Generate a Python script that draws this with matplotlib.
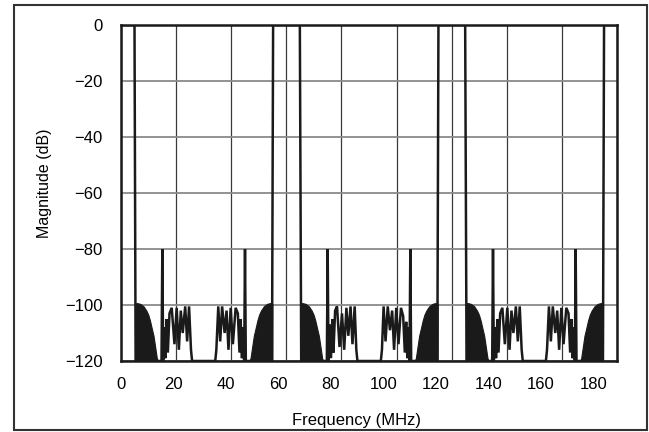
import matplotlib
matplotlib.use("Agg")
import matplotlib.pyplot as plt
from matplotlib.patches import Rectangle
from matplotlib.transforms import blended_transform_factory

plt.rcParams["font.family"] = ["Liberation Sans", "DejaVu Sans"]

# ---- data (MHz, dB) ----

# main response trace, one continuous line from 0 to 180 MHz
trace_mhz = [
    0, 4.9, 5.3,                                   # passband @ 0
    14.7, 15.0, 15.3,                              # spur @ 15
    15.7, 16.1, 16.6, 17.0,
    17.6, 18.4, 19.4, 20.2, 21.0, 21.7, 22.4, 23.3, 24.0, 24.7, 25.4, 25.8,
    34.2, 34.6, 35.3, 36.0, 36.7, 37.6, 38.3, 39.0, 39.8, 40.6, 41.6, 42.4,
    43.0, 43.4, 43.9, 44.3,
    44.7, 45.0, 45.3,                              # spur @ 45
    54.8, 55.2, 64.9, 65.4,                        # passband @ 60
    74.7, 75.0, 75.3,                              # spur @ 75
    75.7, 76.2, 76.7, 77.1,
    77.7, 78.4, 79.3, 80.2, 81.0, 81.8, 82.5, 83.3, 84.0, 84.8, 85.4, 85.8,
    94.3, 94.7, 95.3, 96.0, 96.8, 97.6, 98.4, 99.1, 99.9, 100.7, 101.6, 102.4,
    103.0, 103.5, 103.9, 104.3,
    104.7, 105.0, 105.3,                           # spur @ 105
    114.8, 115.2, 124.9, 125.4,                    # passband @ 120
    134.7, 135.0, 135.3,                           # spur @ 135
    135.7, 136.1, 136.6, 137.0,
    137.6, 138.4, 139.3, 140.2, 141.0, 141.7, 142.4, 143.3, 144.0, 144.7, 145.4, 145.8,
    154.2, 154.6, 155.3, 156.0, 156.7, 157.6, 158.3, 159.0, 159.8, 160.6, 161.6, 162.4,
    163.0, 163.4, 163.9, 164.3,
    164.7, 165.0, 165.3,                           # spur @ 165
    174.9, 175.3, 180,                             # passband @ 180
]
trace_db = [
    0, 0, -120,
    -120, -80, -120,
    -108, -119, -105, -117,
    -103, -101, -114, -101, -116, -102, -110, -100.5, -113, -100.5, -116, -120,
    -120, -116, -100.5, -113, -100.5, -110, -102, -116, -101, -114, -101, -103,
    -117, -105, -119, -108,
    -120, -80, -120,
    -120, 0, 0, -120,
    -120, -80, -120,
    -107, -119, -105, -117,
    -102, -100.5, -115, -103, -116, -101, -111, -100.5, -114, -100.5, -116, -120,
    -120, -116, -100.5, -113, -100.5, -109, -102, -116, -101, -114, -101, -104,
    -117, -106, -119, -108,
    -120, -80, -120,
    -120, 0, 0, -120,
    -120, -80, -120,
    -108, -119, -105, -117,
    -103, -101, -114, -101, -116, -102, -110, -100.5, -113, -100.5, -116, -120,
    -120, -116, -100.5, -113, -100.5, -110, -102, -116, -101, -114, -101, -103,
    -117, -105, -119, -108,
    -120, -80, -120,
    -120, 0, 0,
]

# dense stopband ripple next to each passband, drawn solid: upper envelope
block_mhz = [
    [5.2, 5.8, 7.0, 8.2, 9.2, 9.9, 10.5, 11.2, 11.8, 12.4, 13.0, 13.4],
    [46.6, 47.0, 47.6, 48.2, 48.8, 49.5, 50.1, 50.8, 51.8, 53.0, 54.2, 54.9],
    [65.2, 65.8, 67.0, 68.2, 69.2, 69.9, 70.5, 71.2, 71.8, 72.4, 73.0, 73.4],
    [106.6, 107.0, 107.6, 108.2, 108.8, 109.5, 110.1, 110.8, 111.8, 113.0, 114.2, 114.9],
    [125.2, 125.8, 127.0, 128.2, 129.2, 129.9, 130.5, 131.2, 131.8, 132.4, 133.0, 133.4],
    [166.6, 167.0, 167.6, 168.2, 168.8, 169.5, 170.1, 170.8, 171.8, 173.0, 174.2, 174.9],
]
block_db_right = [-99.5, -99.3, -99.6, -100.5, -102, -103.5, -105.5, -108.5, -111, -115, -119, -120]
block_db_left = [-120, -119, -115, -111, -108.5, -105.5, -103.5, -102, -100.5, -99.6, -99.3, -99.5]
block_db = [block_db_right, block_db_left] * 3

x_ticks = [0, 20, 40, 60, 80, 100, 120, 140, 160, 180]
y_ticks = [-120, -100, -80, -60, -40, -20, 0]

# the printed x labels sit a little left of the grid in the original
x_label_scale = 0.952

W, H = 649, 432
fig = plt.figure(figsize=(W / 100, H / 100), dpi=100)
ax = fig.add_axes([121 / W, 1 - 361 / H, 496 / W, 336 / H])

# outer frame round the whole figure
fig.patches.append(Rectangle((14 / W, 2 / H), 633 / W, 425 / H,
                             transform=fig.transFigure, fill=False,
                             edgecolor="#333333", linewidth=1.5))

for f, db in zip(block_mhz, block_db):
    ax.fill_between(f, -120, db, color="#1a1a1a", linewidth=0.8,
                    edgecolor="#1a1a1a", zorder=3)
ax.plot(trace_mhz, trace_db, color="#1a1a1a", linewidth=1.8, zorder=4,
        solid_joinstyle="miter")

ax.set_xlim(0, 180)
ax.set_ylim(-120, 0)
ax.set_xticks(x_ticks)
ax.set_xticklabels([])
ax.set_yticks(y_ticks)
ax.tick_params(length=0)
ax.tick_params(axis="y", pad=13, labelsize=12)
ax.xaxis.grid(True, color="#3a3a3a", linewidth=0.9)
ax.yaxis.grid(True, color="#8a8a8a", linewidth=1.3)
ax.set_axisbelow(True)
for sp in ax.spines.values():
    sp.set_linewidth(1.8)
    sp.set_color("#1a1a1a")

trans = blended_transform_factory(ax.transData, ax.transAxes)
for v in x_ticks:
    ax.text(v * x_label_scale, -0.071, str(v), transform=trans,
            ha="center", va="center", fontsize=12)

fig.text(356 / W, 1 - 421 / H, "Frequency (MHz)", ha="center", va="center",
         fontsize=12)
fig.text(44 / W, 1 - 183 / H, "Magnitude (dB)", ha="center", va="center",
         rotation=90, fontsize=11.5)

fig.savefig("out.png", dpi=100)
